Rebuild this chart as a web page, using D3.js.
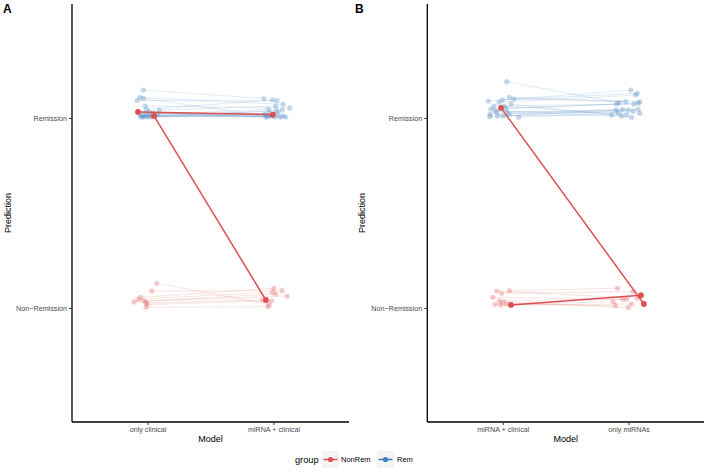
<!DOCTYPE html>
<html><head><meta charset="utf-8">
<script src="https://cdn.jsdelivr.net/npm/d3@7"></script>
<style>body{margin:0;background:#fff}svg{display:block;font-family:"Liberation Sans",Arial,sans-serif}</style>
</head><body><svg id="c" width="709" height="472"></svg>
<script>
// ---- data (y = 1 Non-Remission, 2 Remission, plus jitter; dx = x jitter in category steps) ----
const groups = ["NonRem", "Rem"];
const groupColors = ["#DC5052", "#3F7FBA"];
const yLevels = ["Non\u2212Remission", "Remission"];
const modelsA = ["only clinical", "miRNA + clinical"];
const modelsB = ["miRNA + clinical", "only miRNAs"];

// [dx1, y1, dx2, y2]
const remA = [
  [-0.034,2.147,-0.074,2.102],[-0.060,2.108,0.077,2.072],[-0.034,2.104,-0.042,2.007],
  [-0.082,2.092,0.029,2.091],[-0.020,2.063,0.130,2.053],[-0.007,2.046,-0.007,2.095],
  [0.093,2.042,0.019,2.063],[-0.060,2.016,-0.039,2.046],[-0.044,2.011,0.025,2.037],
  [-0.029,2.005,0.077,2.011],[-0.013,2.011,-0.005,2.016],[0.003,2.005,0.035,2.026],
  [0.019,2.016,0.098,2.005],[0.035,2.005,-0.068,2.021],[0.059,2.011,0.052,2.005],
  [0.083,2.021,-0.029,2.026],[-0.020,2.026,0.011,2.005],[0.011,2.032,-0.060,2.005],
  [-0.052,2.005,0.070,2.042],[0.043,2.026,-0.020,2.011]
];
const nonRemA = [
  [0.072,1.130,-0.034,1.019],[0.033,1.089,0.069,1.091],[-0.055,1.056,0.003,1.104],
  [-0.074,1.046,-0.007,1.084],[-0.108,1.032,0.019,1.074],[-0.029,1.037,0.109,1.063],
  [-0.013,1.028,-0.087,1.042],[-0.002,1.019,-0.015,1.038],[-0.013,1.004,-0.042,1.007]
];
const highlightA = [[-0.076,2.032,-0.005,2.018],[0.051,2.011,-0.060,1.042]];

const remB = [
  [0.031,2.191,-0.074,2.081],[-0.115,2.089,0.019,2.147],[-0.030,2.083,0.056,2.121],
  [-0.004,2.095,0.069,2.130],[0.052,2.109,-0.021,2.086],[0.089,2.100,0.090,2.086],
  [-0.070,2.063,0.043,2.074],[-0.094,2.047,-0.095,2.074],[0.025,2.051,0.077,2.077],
  [-0.102,2.019,-0.047,2.046],[0.052,2.021,-0.002,2.042],[-0.041,2.011,0.037,2.038],
  [-0.102,2.007,0.077,2.046],[0.004,2.011,-0.134,2.016],[0.126,2.004,-0.082,2.028],
  [-0.048,2.033,-0.055,2.011],[0.010,2.063,-0.015,2.016],[0.065,2.074,0.025,2.004],
  [-0.062,2.037,0.090,2.025],[0.033,2.032,-0.100,2.042]
];
const nonRemB = [
  [0.052,1.091,-0.087,1.104],[-0.048,1.089,0.069,1.051],[-0.009,1.077,0.037,1.086],
  [-0.080,1.056,-0.047,1.046],[-0.028,1.038,-0.015,1.046],[-0.062,1.019,-0.122,1.033],
  [-0.017,1.016,0.025,1.021],[0.031,1.021,-0.103,1.012],[0.002,1.032,-0.002,1.002]
];
const highlightB = [[-0.014,2.053,0.122,1.021],[0.065,1.016,0.099,1.067]];

// ---- drawing ----
const svg = d3.select("#c");
const color = d3.scaleOrdinal().domain(groups).range(groupColors);

function panel(letter, x0, x1, models, rem, nonRem, hi, titleX, letterX) {
  const top = 4, bottom = 422;
  const x = d3.scalePoint().domain(models).range([x0, x1]).padding(0.6);
  const step = x.step();
  const y = d3.scaleLinear().domain([0.4, 2.6]).range([bottom, top]);
  const g = svg.append("g");

  const subjects = [];
  rem.forEach(d => subjects.push({g: "Rem", d, hi: false}));
  nonRem.forEach(d => subjects.push({g: "NonRem", d, hi: false}));
  hi.forEach(d => subjects.push({g: "NonRem", d, hi: true}));

  const px = (m, dx) => x(models[m]) + dx * step;
  const faded = subjects.filter(s => !s.hi), strong = subjects.filter(s => s.hi);

  g.selectAll("line.f").data(faded).join("line")
    .attr("x1", s => px(0, s.d[0])).attr("y1", s => y(s.d[1]))
    .attr("x2", s => px(1, s.d[2])).attr("y2", s => y(s.d[3]))
    .attr("stroke", s => color(s.g)).attr("stroke-opacity", 0.15).attr("stroke-width", 1.1);
  faded.forEach(s => {
    [[0, s.d[0], s.d[1]], [1, s.d[2], s.d[3]]].forEach(p => {
      g.append("circle").attr("cx", px(p[0], p[1])).attr("cy", y(p[2])).attr("r", 2.6)
        .attr("fill", color(s.g)).attr("fill-opacity", 0.3);
    });
  });
  g.selectAll("line.h").data(strong).join("line")
    .attr("x1", s => px(0, s.d[0])).attr("y1", s => y(s.d[1]))
    .attr("x2", s => px(1, s.d[2])).attr("y2", s => y(s.d[3]))
    .attr("stroke", s => color(s.g)).attr("stroke-width", 1.5);
  strong.forEach(s => {
    [[0, s.d[0], s.d[1]], [1, s.d[2], s.d[3]]].forEach(p => {
      g.append("circle").attr("cx", px(p[0], p[1])).attr("cy", y(p[2])).attr("r", 2.9)
        .attr("fill", color(s.g));
    });
  });

  // axes
  const ya = g.append("g").attr("transform", `translate(${x0},0)`)
    .call(d3.axisLeft(y).tickValues([1, 2]).tickFormat(v => yLevels[v - 1]).tickSizeOuter(0).tickSize(3).tickPadding(2));
  const xa = g.append("g").attr("transform", `translate(0,${bottom})`)
    .call(d3.axisBottom(x).tickSizeOuter(0).tickSize(3).tickPadding(2));
  [ya, xa].forEach(a => {
    a.select(".domain").attr("stroke", "#000").attr("stroke-width", 1.3);
    a.selectAll(".tick line").attr("stroke", "#333").attr("stroke-width", 1);
    a.selectAll(".tick text").attr("fill", "#4d4d4d").style("font-size", "7.2px").style("font-family", "Liberation Sans, Arial, sans-serif");
  });
  ya.select(".domain").attr("d", `M0,${top}V${bottom}`);
  xa.select(".domain").attr("d", `M${x0},0H${x1}`);

  svg.append("text").attr("x", (x0 + x1) / 2).attr("y", 442).attr("text-anchor", "middle")
    .style("font-size", "9px").attr("fill", "#000").text("Model");
  svg.append("text").attr("transform", `translate(${titleX},${(top + bottom) / 2}) rotate(-90)`)
    .attr("text-anchor", "middle").style("font-size", "9px").attr("fill", "#000").text("Prediction");
  svg.append("text").attr("x", letterX).attr("y", 13).style("font-size", "12px").style("font-weight", "bold")
    .attr("fill", "#000").text(letter);
}

panel("A", 72, 349, modelsA, remA, nonRemA, highlightA, 11, 3);
panel("B", 427.3, 704, modelsB, remB, nonRemB, highlightB, 365, 355);

// legend
const lg = svg.append("g");
lg.append("text").attr("x", 295).attr("y", 463).style("font-size", "9.2px").attr("fill", "#000").text("group");
const keyX = [322, 377], labX = [341, 397];
groups.forEach((gname, i) => {
  lg.append("rect").attr("x", keyX[i]).attr("y", 451).attr("width", 17).attr("height", 17).attr("fill", "#f4f4f7");
  lg.append("line").attr("x1", keyX[i] + 1.5).attr("x2", keyX[i] + 15.5).attr("y1", 459.5).attr("y2", 459.5)
    .attr("stroke", color(gname)).attr("stroke-width", 1.5);
  lg.append("circle").attr("cx", keyX[i] + 8.5).attr("cy", 459.5).attr("r", 2.6).attr("fill", color(gname));
  lg.append("text").attr("x", labX[i]).attr("y", 462).style("font-size", "7.5px").attr("fill", "#000").text(gname);
});
</script></body></html>
